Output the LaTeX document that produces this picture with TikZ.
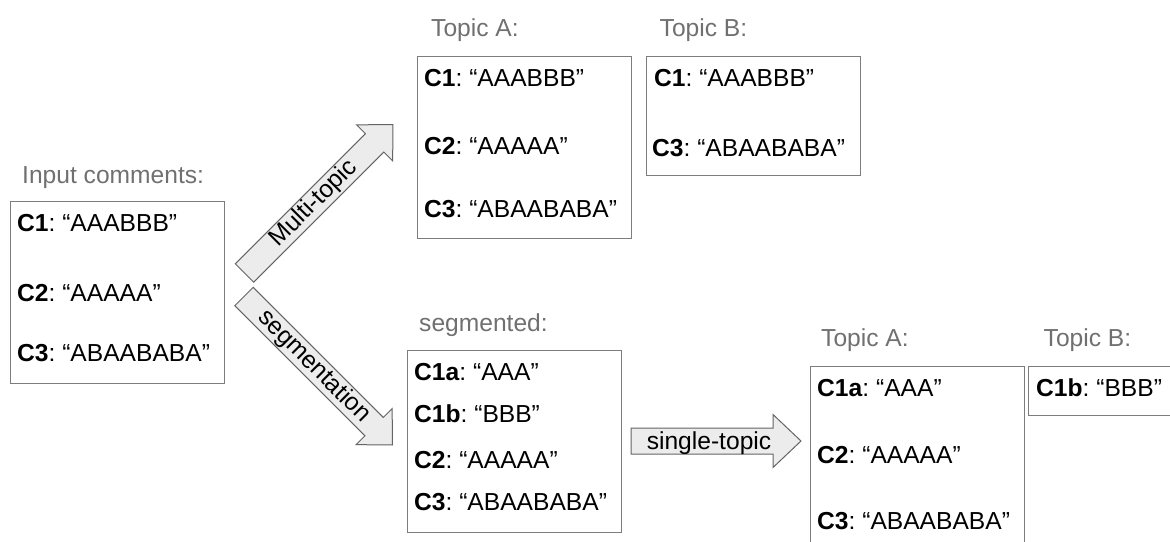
\documentclass[tikz,border=0pt]{standalone}
\usepackage{fontspec}
\setmainfont{Liberation Sans}
\definecolor{boxgray}{RGB}{125,125,125}
\definecolor{lblgray}{RGB}{112,112,112}
\definecolor{arrfill}{RGB}{236,236,236}
\definecolor{arrdraw}{RGB}{100,100,100}
\frenchspacing
\begin{document}
\begin{tikzpicture}[x=1pt,y=1pt,
  box/.style={draw=boxgray, line width=1.3pt, rectangle, inner sep=0pt, anchor=north west},
  lbl/.style={text=lblgray, font=\fontsize{24.6}{28}\selectfont, inner sep=0pt, anchor=base west},
  txt/.style={text=black, font=\fontsize{24.6}{28}\selectfont, inner sep=0pt, anchor=base west},
  barrow/.style={draw=arrdraw, fill=arrfill, line width=1pt, line join=miter},
  arrtxt/.style={text=black, font=\fontsize{24.6}{28}\selectfont, inner sep=0pt}
]
\useasboundingbox (0,0) rectangle (1170,-541);
\clip (0,0) rectangle (1170,-541);

% input box
\node[lbl] (inlbl) at (22,-183.5) {Input comments:};
\node[box, minimum width=214, minimum height=182] (in) at (10,-201) {};
\node[txt] (in1) at (17,-231) {\textbf{C1}: “AAABBB”};
\node[txt] (in2) at (17,-301.5) {\textbf{C2}: “AAAAA”};
\node[txt] (in3) at (17,-361.5) {\textbf{C3}: “ABAABABA”};

% top topic A
\node[lbl] (talbl) at (431,-36.5) {Topic A:};
\node[box, minimum width=214, minimum height=182] (ta) at (417,-56) {};
\node[txt] (ta1) at (424,-86) {\textbf{C1}: “AAABBB”};
\node[txt] (ta2) at (424,-154) {\textbf{C2}: “AAAAA”};
\node[txt] (ta3) at (424,-217) {\textbf{C3}: “ABAABABA”};

% top topic B
\node[lbl] (tblbl) at (659.5,-36.5) {Topic B:};
\node[box, minimum width=214, minimum height=119] (tb) at (646,-56) {};
\node[txt] (tb1) at (654,-86) {\textbf{C1}: “AAABBB”};
\node[txt] (tb3) at (652,-156) {\textbf{C3}: “ABAABABA”};

% segmented
\node[lbl] (seglbl) at (419,-331.5) {segmented:};
\node[box, minimum width=214, minimum height=182] (seg) at (407,-350) {};
\node[txt] (seg1) at (414,-380) {\textbf{C1a}: “AAA”};
\node[txt] (seg2) at (414,-422.5) {\textbf{C1b}: “BBB”};
\node[txt] (seg3) at (414,-468) {\textbf{C2}: “AAAAA”};
\node[txt] (seg4) at (414,-510.5) {\textbf{C3}: “ABAABABA”};

% bottom topic A
\node[lbl] (balbl) at (821,-346.5) {Topic A:};
\node[box, minimum width=214, minimum height=200] (ba) at (810,-366) {};
\node[txt] (ba1) at (817,-396.5) {\textbf{C1a}: “AAA”};
\node[txt] (ba2) at (817,-463) {\textbf{C2}: “AAAAA”};
\node[txt] (ba3) at (817,-529) {\textbf{C3}: “ABAABABA”};

% bottom topic B
\node[lbl] (bblbl) at (1043.5,-346.5) {Topic B:};
\node[box, minimum width=160, minimum height=49] (bb) at (1028,-366) {};
\node[txt] (bb1) at (1036,-396.5) {\textbf{C1b}: “BBB”};

% block arrows
\coordinate (mtT) at (244.5,-273);
\begin{scope}[shift={(mtT)}, rotate=45]
  \draw[barrow] (0,13) -- (184,13) -- (184,25.5) -- (210,0) -- (184,-25.5) -- (184,-13) -- (0,-13) -- cycle;
  \node[arrtxt, rotate=45] (mtlbl) at (98,0) {Multi-topic};
\end{scope}

\coordinate (sgT) at (244,-296.5);
\begin{scope}[shift={(sgT)}, rotate=-45]
  \draw[barrow] (0,13) -- (184,13) -- (184,25.5) -- (210,0) -- (184,-25.5) -- (184,-13) -- (0,-13) -- cycle;
  \node[arrtxt, rotate=-45] (sglbl) at (99,0) {segmentation};
\end{scope}

\coordinate (stT) at (631,-441);
\begin{scope}[shift={(stT)}]
  \draw[barrow] (0,13) -- (142,13) -- (142,26.5) -- (170,0) -- (142,-26.5) -- (142,-13) -- (0,-13) -- cycle;
  \node[arrtxt, anchor=base] (stlbl) at (78,-8.5) {single-topic};
\end{scope}
\end{tikzpicture}
\end{document}
